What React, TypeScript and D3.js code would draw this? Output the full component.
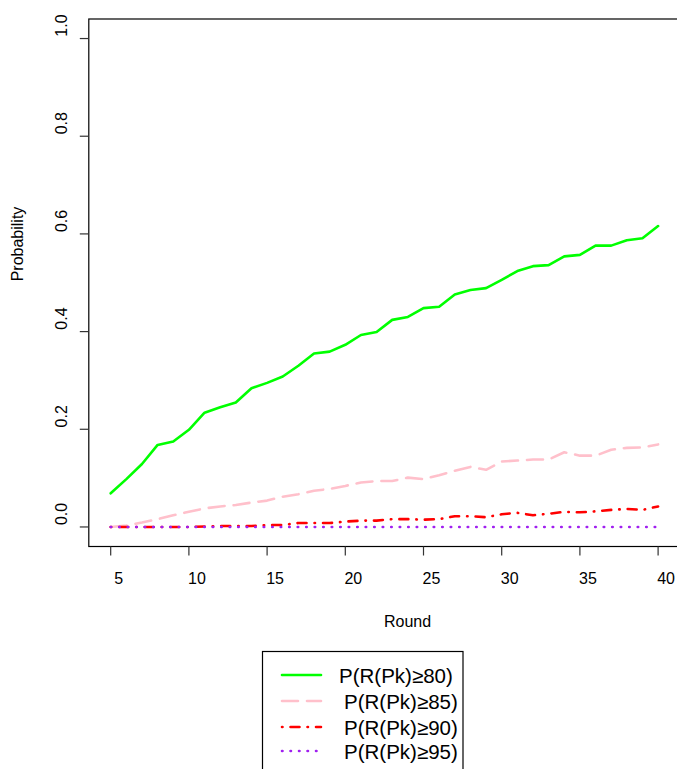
import React from "react";
import * as d3 from "d3";

// Rounds on the horizontal axis
const rounds = [5, 6, 7, 8, 9, 10, 11, 12, 13, 14, 15, 16, 17, 18, 19, 20, 21, 22, 23, 24, 25, 26, 27, 28, 29, 30, 31, 32, 33, 34, 35, 36, 37, 38, 39, 40];

// Probability of reaching each threshold, one value per round
const p80 = [0.069, 0.098, 0.129, 0.168, 0.175, 0.199, 0.234, 0.245, 0.255, 0.284, 0.295, 0.308, 0.33, 0.355, 0.359, 0.373, 0.393, 0.399, 0.424, 0.43, 0.448, 0.451, 0.476, 0.485, 0.489, 0.506, 0.524, 0.534, 0.536, 0.554, 0.557, 0.576, 0.576, 0.587, 0.591, 0.616];
const p85 = [0, 0.003, 0.009, 0.016, 0.024, 0.031, 0.038, 0.042, 0.045, 0.05, 0.054, 0.062, 0.067, 0.074, 0.078, 0.084, 0.091, 0.094, 0.094, 0.101, 0.098, 0.106, 0.115, 0.123, 0.117, 0.134, 0.136, 0.138, 0.138, 0.153, 0.146, 0.146, 0.158, 0.162, 0.163, 0.169];
const p90 = [0, 0, 0, 0, 0, 0, 0.001, 0.002, 0.002, 0.002, 0.004, 0.004, 0.008, 0.008, 0.008, 0.011, 0.013, 0.013, 0.016, 0.016, 0.015, 0.016, 0.022, 0.022, 0.02, 0.026, 0.029, 0.024, 0.027, 0.031, 0.03, 0.032, 0.035, 0.037, 0.035, 0.042];
const p95 = [0, 0, 0, 0, 0, 0, 0, 0, 0, 0, 0, 0, 0, 0, 0, 0, 0, 0, 0, 0, 0, 0, 0, 0, 0, 0, 0, 0, 0, 0, 0, 0, 0, 0, 0, 0];

const seriesLabels = ["P(R(Pk)\u226580)", "P(R(Pk)\u226585)", "P(R(Pk)\u226590)", "P(R(Pk)\u226595)"];
const xTicks = [5, 10, 15, 20, 25, 30, 35, 40];
const yTicks = [0, 0.2, 0.4, 0.6, 0.8, 1.0];

const W = 677;
const H = 769;
const FONT = "'Liberation Sans', Arial, Helvetica, sans-serif";

const styles = [
  { color: "#00FF00", dash: undefined as string | undefined },
  { color: "#FFC0CB", dash: "16 9" },
  { color: "#FF0000", dash: "0.5 8 9 8" },
  { color: "#A020F0", dash: "0.5 8" },
];

export default function App() {
  const x = d3.scaleLinear().domain([3.6, 41.4]).range([88.8, 680]);
  const y = d3.scaleLinear().domain([-0.04, 1.04]).range([546.5, 19]);
  const line = d3
    .line<number>()
    .x((_, i) => x(rounds[i]))
    .y((d) => y(d));

  const series = [p80, p85, p90, p95];
  const [x0, x1] = x.range();
  const [yb, yt] = y.range();

  const legendRows = [675, 701, 727, 751];
  const legendTextX = [339, 344, 344, 344];

  return (
    <svg
      width={W}
      height={H}
      style={{ position: "absolute", left: 0, top: 0, background: "#fff" }}
      fontFamily={FONT}
    >
      <rect x={0} y={0} width={W} height={H} fill="#fff" />

      {/* data lines */}
      {series.map((s, i) => (
        <path
          key={i}
          d={line(s) ?? ""}
          fill="none"
          stroke={styles[i].color}
          strokeWidth={2.6}
          strokeDasharray={styles[i].dash}
          strokeLinecap="round"
          strokeLinejoin="round"
        />
      ))}

      {/* plot frame */}
      <rect x={x0} y={yt} width={x1 - x0} height={yb - yt} fill="none" stroke="#000" strokeWidth={1.2} />

      {/* x axis */}
      {xTicks.map((t) => (
        <g key={t}>
          <line x1={x(t)} x2={x(t)} y1={yb} y2={yb + 9} stroke="#333" strokeWidth={1.2} />
          <text x={x(t) + 8} y={584} fontSize={16} textAnchor="middle" fill="#000">
            {t}
          </text>
        </g>
      ))}

      {/* y axis */}
      {yTicks.map((t) => (
        <g key={t}>
          <line x1={x0 - 9} x2={x0} y1={y(t)} y2={y(t)} stroke="#333" strokeWidth={1.2} />
          <text
            transform={`translate(67,${y(t) - 13}) rotate(-90)`}
            fontSize={16}
            textAnchor="middle"
            fill="#000"
          >
            {t.toFixed(1)}
          </text>
        </g>
      ))}

      <text x={407.5} y={627} fontSize={16} textAnchor="middle" fill="#000">
        Round
      </text>
      <text transform="translate(23,244) rotate(-90)" fontSize={16} textAnchor="middle" fill="#000">
        Probability
      </text>

      {/* legend */}
      <rect x={262.5} y={651.5} width={200.5} height={125} fill="#fff" stroke="#000" strokeWidth={1.2} />
      {seriesLabels.map((lab, i) => (
        <g key={lab}>
          <line
            x1={282}
            x2={321}
            y1={legendRows[i]}
            y2={legendRows[i]}
            stroke={styles[i].color}
            strokeWidth={2.6}
            strokeDasharray={styles[i].dash}
            strokeLinecap="round"
          />
          <text x={legendTextX[i]} y={legendRows[i] + 7.5} fontSize={20.5} fill="#000">
            {lab}
          </text>
        </g>
      ))}
    </svg>
  );
}
